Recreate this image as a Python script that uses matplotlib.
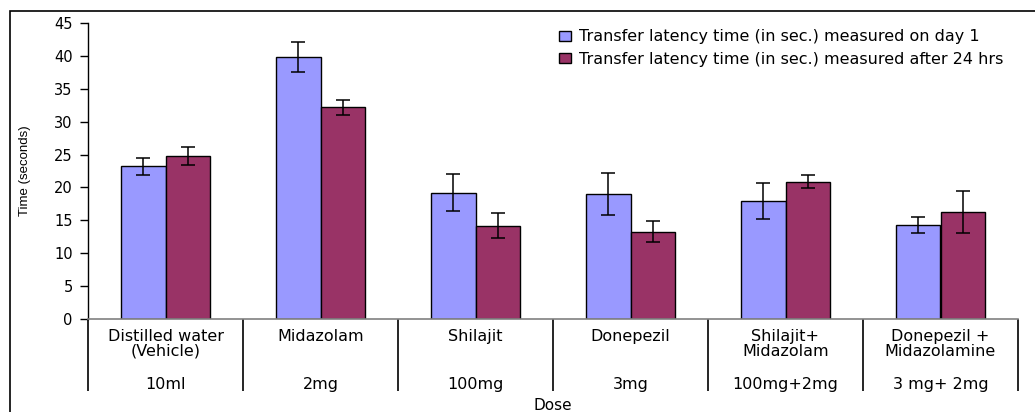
import numpy as np
import matplotlib
matplotlib.use('Agg')
import matplotlib.pyplot as plt
from matplotlib.patches import Rectangle
from matplotlib.transforms import blended_transform_factory

plt.rcParams['font.family'] = ['DejaVu Sans']

# dados
grupos = ['Distilled water\n(Vehicle)', 'Midazolam', 'Shilajit', 'Donepezil',
          'Shilajit+\nMidazolam', 'Donepezil +\nMidazolamine']
doses = ['10ml', '2mg', '100mg', '3mg', '100mg+2mg', '3 mg+ 2mg']
dia1 = [23.2, 39.8, 19.2, 19.0, 17.9, 14.3]
dia1_err = [1.3, 2.3, 2.8, 3.2, 2.7, 1.25]
apos24 = [24.8, 32.2, 14.2, 13.3, 20.9, 16.2]
apos24_err = [1.35, 1.15, 1.85, 1.6, 0.95, 3.2]
rotulo1 = 'Transfer latency time (in sec.) measured on day 1'
rotulo2 = 'Transfer latency time (in sec.) measured after 24 hrs'

azul = '#9999FF'
roxo = '#993366'

fig = plt.figure(figsize=(10.35, 4.12), dpi=100)
W, H = 1035, 412
ax = fig.add_axes([88 / W, 1 - 319 / H, 930 / W, 296 / H])

x = np.arange(len(grupos))
larg = 0.284
ax.bar(x - larg / 2, dia1, larg, color=azul, edgecolor='black', linewidth=1.0,
       label=rotulo1, zorder=2)
ax.bar(x + larg / 2, apos24, larg, color=roxo, edgecolor='black', linewidth=1.0,
       label=rotulo2, zorder=2)
ax.errorbar(x - larg / 2, dia1, yerr=dia1_err, fmt='none', ecolor='black',
            elinewidth=1.1, capsize=5, capthick=1.1, zorder=3)
ax.errorbar(x + larg / 2, apos24, yerr=apos24_err, fmt='none', ecolor='black',
            elinewidth=1.1, capsize=5, capthick=1.1, zorder=3)

ax.set_xlim(-0.5, len(grupos) - 0.5)
ax.set_ylim(0, 45)
ax.set_yticks(np.arange(0, 46, 5))
ax.tick_params(axis='y', labelsize=10.5, length=6, width=1, direction='out', pad=5)
for s in ['top', 'right']:
    ax.spines[s].set_visible(False)
ax.spines['left'].set_linewidth(1.0)
ax.spines['bottom'].set_color('#808080')
ax.spines['bottom'].set_linewidth(1.2)

# separadores das categorias
ax.set_xticks([])
ax.set_xticks(np.arange(-0.5, len(grupos)), minor=True)
ax.tick_params(axis='x', which='minor', length=52, width=1.2, direction='out',
               color='black')

trans = blended_transform_factory(ax.transData, ax.transAxes)
for i in range(len(grupos)):
    ax.text(x[i], -0.035, grupos[i], transform=trans, ha='center', va='top',
            fontsize=11.5, linespacing=0.95)
    ax.text(x[i], -0.195, doses[i], transform=trans, ha='center', va='top',
            fontsize=11.5)

fig.text(553 / W, 1 - 406 / H, 'Dose', ha='center', va='center', fontsize=11)
fig.text(25 / W, 1 - 171 / H, 'Time (seconds)', rotation=90, ha='center',
         va='center', fontsize=9.5, family='Liberation Sans')

fig.legend(loc='upper left', bbox_to_anchor=(553 / W, 1 - 23 / H), frameon=False,
           fontsize=11.5, handlelength=0.75, handleheight=0.55, handletextpad=0.45,
           labelspacing=0.45, borderaxespad=0)

# moldura externa
fig.patches.append(Rectangle((10 / W, -0.05), 1.1, 1 - 11 / H + 0.05,
                             transform=fig.transFigure, fill=False,
                             edgecolor='black', linewidth=1.2))

fig.savefig('out.png', dpi=100)
